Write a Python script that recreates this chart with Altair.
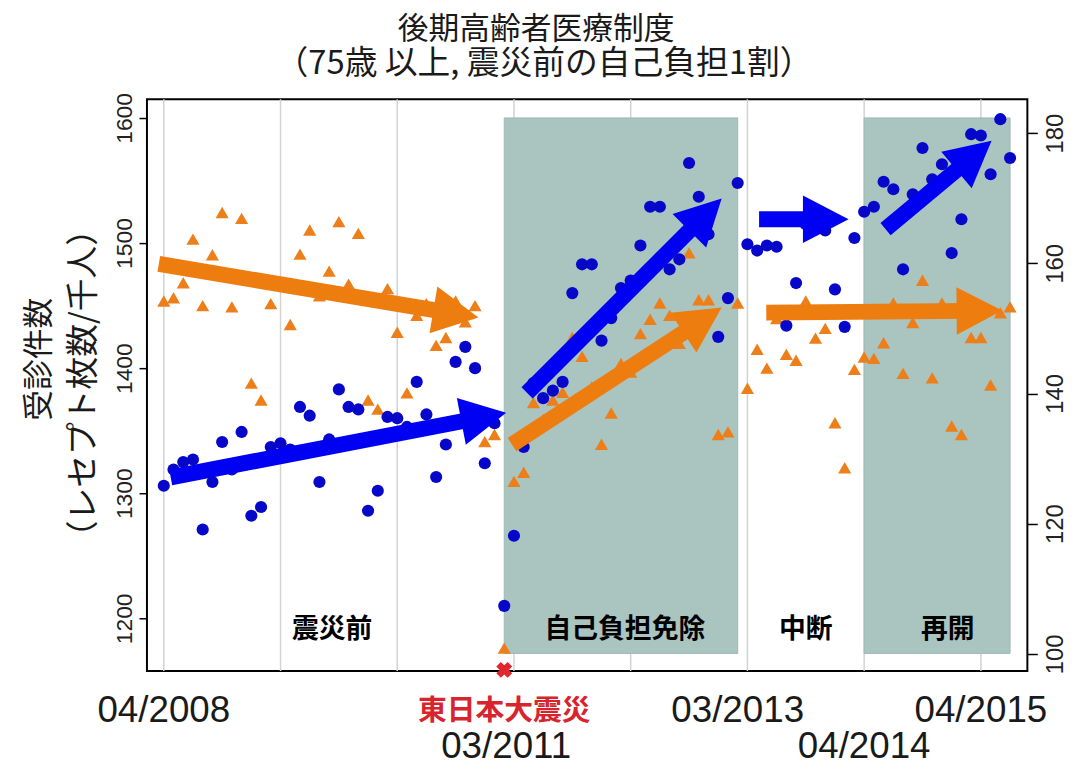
import math
import altair as alt
import pandas as pd

# ---------------- data ----------------
months = list(range(88))  # 0 = 04/2008
blue_vals = [1306, 1319, 1325, 1327, 1271, 1309, 1341, 1319, 1349, 1282,
             1289, 1337, 1340, 1335, 1369, 1362, 1309, 1343, 1383, 1369,
             1367, 1286, 1302, 1361, 1360, 1353, 1389, 1363, 1313, 1339,
             1405, 1417, 1400, 1324, 1356, 1210, 1266, 1337, 1388, 1376,
             1382, 1389, 1460, 1483, 1483, 1422, 1440, 1464, 1470, 1498,
             1529, 1529, 1479, 1487, 1564, 1537, 1507, 1425, 1456, 1548,
             1499, 1494, 1498, 1497, 1434, 1468, 1515, 1520, 1510, 1463,
             1433, 1504, 1525, 1529, 1549, 1543, 1479, 1539, 1576, 1551,
             1563, 1492, 1519, 1587, 1586, 1555, 1599, 1568]
orange_vals = [154.2, 154.7, 157.0, 163.7, 153.5, 161.3, 167.8, 153.3, 166.9, 141.6,
               139.0, 153.8, 157.0, 150.6, 161.4, 165.1, 155.0, 158.8, 166.4, 156.8,
               164.6, 139.0, 137.6, 156.1, 149.4, 140.1, 152.0, 153.8, 147.4, 148.6,
               154.2, 151.0, 153.5, 132.6, 133.7, 100.9, 126.5, 127.9, 138.6, 136.0,
               139.0, 140.2, 148.6, 145.7, 141.0, 132.2, 137.0, 144.6, 143.3, 149.2,
               151.4, 153.9, 152.0, 147.7, 161.6, 154.4, 154.4, 133.7, 134.1, 153.9,
               140.8, 146.8, 143.9, 151.5, 146.0, 145.1, 154.2, 148.5, 150.0, 135.5,
               128.6, 143.7, 145.6, 145.4, 147.8, 153.9, 143.1, 150.9, 157.4, 142.4,
               153.9, 135.0, 133.7, 148.6, 148.6, 141.3, 152.4, 153.3]

period_start = [35, 72]
period_end = [59, 87]
period_top = [1600, 1600]
period_bottom = [1172, 1172]

region_labels = ["震災前", "自己負担免除", "中断", "再開"]
region_m = [17.3, 47.4, 66.0, 80.6]

grid_months = [0, 12, 24, 36, 48, 60, 72, 84]
tick_months = [0, 59, 72, 84]

xlab_text = ["04/2008", "03/2011", "03/2013", "04/2014", "04/2015"]
xlab_m = [0, 35.2, 59, 72, 84]
xlab_row = [0, 1, 0, 1, 0]
quake_label = "東日本大震災"
quake_m = 35

# arrows (tail -> tip) in (month, left-axis value) units
arrow_color = ["blue", "blue", "blue", "blue", "orange", "orange", "orange"]
arrow_tail_m = [0.71, 37.35, 61.2, 74.2, -0.51, 35.8, 61.94]
arrow_tail_v = [1312.7, 1380.2, 1519.0, 1511.1, 1483.3, 1338.9, 1444.4]
arrow_tip_m = [35.2, 57.35, 70.4, 85.1, 32.35, 57.35, 86.2]
arrow_tip_v = [1364.3, 1535.7, 1519.0, 1581.7, 1440.5, 1448.4, 1446.0]

title_lines = ["後期高齢者医療制度", "（75歳 以上, 震災前の自己負担1割）"]
ytitle_lines = ["受診件数", "（レセプト枚数/千人）"]

# ---------------- styling ----------------
W, H = 887, 576
XMIN, XMAX = -1.73, 88.78
YL_MIN, YL_MAX = 1158, 1615
YR_MIN, YR_MAX = 97.4, 185.2
JP = "Noto Sans CJK JP"
LAT = "Liberation Sans"
BLUE_PT = "#0707c9"
ORANGE_PT = "#ec7f1a"
COLORS = {"blue": "#0000f2", "orange": "#ee7d10"}
SHADE = "#aac4c0"
HEAD_LEN = 46.0
HEAD_SIZE = (2 * HEAD_LEN) ** 2
HEAD_PATH = "M0,0L-1,-0.52L-1,0.52Z"

xs = alt.Scale(domain=[XMIN, XMAX], nice=False, zero=False)
yl = alt.Scale(domain=[YL_MIN, YL_MAX], nice=False, zero=False)
yr = alt.Scale(domain=[YR_MIN, YR_MAX], nice=False, zero=False)

px_per_m = W / (XMAX - XMIN)
px_per_v = H / (YL_MAX - YL_MIN)

# build arrow tables
shaft_rows, head_rows = [], []
for i in range(len(arrow_color)):
    dxp = (arrow_tip_m[i] - arrow_tail_m[i]) * px_per_m
    dyp = -(arrow_tip_v[i] - arrow_tail_v[i]) * px_per_v
    L = math.hypot(dxp, dyp)
    ux, uy = dxp / L, dyp / L
    back = HEAD_LEN * 0.75
    base_m = arrow_tip_m[i] - ux * back / px_per_m
    base_v = arrow_tip_v[i] + uy * back / px_per_v
    c = COLORS[arrow_color[i]]
    shaft_rows.append({"id": i, "o": 0, "m": arrow_tail_m[i], "v": arrow_tail_v[i], "c": c})
    shaft_rows.append({"id": i, "o": 1, "m": base_m, "v": base_v, "c": c})
    ang = math.degrees(math.atan2(dyp, dxp)) % 360
    head_rows.append({"m": arrow_tip_m[i], "v": arrow_tip_v[i], "ang": ang, "c": c})

df = pd.DataFrame({"m": months, "blue": blue_vals, "orange": orange_vals})
periods = pd.DataFrame({"s": period_start, "e": period_end, "t": period_top, "b": period_bottom})

xaxis = alt.Axis(values=tick_months, labels=False, ticks=True, tickSize=12, tickWidth=2,
                 tickColor="black", domain=False, grid=False, title=None)
left_axis = alt.Axis(orient="left", values=[1200, 1300, 1400, 1500, 1600], format="d",
                     labelAngle=270, labelAlign="center", labelBaseline="bottom",
                     labelFontSize=23, labelFont=LAT, labelColor="#222222", tickSize=8,
                     tickWidth=1.5, tickColor="black", domain=False, grid=False, title=None,
                     labelPadding=3)
right_axis = alt.Axis(orient="right", values=[100, 120, 140, 160, 180], format="d",
                      labelAngle=270, labelAlign="center", labelBaseline="top",
                      labelFontSize=24, labelFont=LAT, labelColor="#222222", tickSize=10,
                      tickWidth=1.5, tickColor="black", domain=False, grid=False, title=None,
                      labelPadding=6)

grid = alt.Chart(pd.DataFrame({"m": grid_months})).mark_rule(color="#d2d2d2", strokeWidth=1.5).encode(
    x=alt.X("m:Q", scale=xs, axis=None), y=alt.value(0), y2=alt.value(H))

rect = alt.Chart(periods).mark_rect(color=SHADE, stroke="#9db8b4", strokeWidth=1).encode(
    x=alt.X("s:Q", scale=xs, axis=xaxis), x2="e:Q",
    y=alt.Y("t:Q", scale=yl, axis=left_axis), y2="b:Q")

orange = alt.Chart(df).mark_point(shape="triangle-up", filled=True, size=175,
                                  color=ORANGE_PT, opacity=1).encode(
    x=alt.X("m:Q", scale=xs, axis=None), y=alt.Y("orange:Q", scale=yr, axis=right_axis))

blue = alt.Chart(df).mark_circle(size=150, color=BLUE_PT, opacity=1).encode(
    x=alt.X("m:Q", scale=xs, axis=None), y=alt.Y("blue:Q", scale=yl, axis=None))

shafts = alt.Chart(pd.DataFrame(shaft_rows)).mark_line(strokeWidth=16, strokeCap="butt").encode(
    x=alt.X("m:Q", scale=xs, axis=None), y=alt.Y("v:Q", scale=yl, axis=None),
    detail="id:N", order="o:Q", color=alt.Color("c:N", scale=None))

heads = alt.Chart(pd.DataFrame(head_rows)).mark_point(shape=HEAD_PATH, filled=True, size=HEAD_SIZE,
                                                      opacity=1, strokeWidth=0).encode(
    x=alt.X("m:Q", scale=xs, axis=None), y=alt.Y("v:Q", scale=yl, axis=None),
    angle=alt.Angle("ang:Q", scale=None), color=alt.Color("c:N", scale=None))

regions = alt.Chart(pd.DataFrame({"m": region_m, "t": region_labels})).mark_text(
    font=JP, fontSize=27, fontWeight="bold", color="black", baseline="middle").encode(
    x=alt.X("m:Q", scale=xs, axis=None), y=alt.value(535), text="t:N")

quake_x = alt.Chart(pd.DataFrame({"m": [quake_m]})).mark_point(
    shape="cross", angle=45, filled=True, size=260, color="#e3262e", opacity=1).encode(
    x=alt.X("m:Q", scale=xs, axis=None), y=alt.value(H - 1))

xlab = pd.DataFrame({"m": xlab_m, "t": xlab_text, "r": xlab_row})
xlab0 = alt.Chart(xlab[xlab.r == 0]).mark_text(font=LAT, fontSize=37, color="#1a1a1a",
                                              baseline="middle").encode(
    x=alt.X("m:Q", scale=xs, axis=None), y=alt.value(616), text="t:N")
xlab1 = alt.Chart(xlab[xlab.r == 1]).mark_text(font=LAT, fontSize=37, color="#1a1a1a",
                                              baseline="middle").encode(
    x=alt.X("m:Q", scale=xs, axis=None), y=alt.value(653), text="t:N")
quake_lab = alt.Chart(pd.DataFrame({"m": [quake_m], "t": [quake_label]})).mark_text(
    font=JP, fontSize=29, fontWeight="bold", color="#d8242c", baseline="middle").encode(
    x=alt.X("m:Q", scale=xs, axis=None), y=alt.value(616), text="t:N")

title1 = alt.Chart(pd.DataFrame({"t": [title_lines[0]]})).mark_text(
    font=JP, fontSize=31, color="#1a1a1a", baseline="middle").encode(
    x=alt.value(392), y=alt.value(-70), text="t:N")
title2 = alt.Chart(pd.DataFrame({"t": [title_lines[1]]})).mark_text(
    font=JP, fontSize=33, color="#1a1a1a", baseline="middle").encode(
    x=alt.value(400), y=alt.value(-35), text="t:N")

ytitle1 = alt.Chart(pd.DataFrame({"t": [ytitle_lines[0]]})).mark_text(
    font=JP, fontSize=31, color="#1a1a1a", baseline="middle", angle=270).encode(
    x=alt.value(-108), y=alt.value(262), text="t:N")
ytitle2 = alt.Chart(pd.DataFrame({"t": [ytitle_lines[1]]})).mark_text(
    font=JP, fontSize=33, color="#1a1a1a", baseline="middle", angle=270).encode(
    x=alt.value(-63), y=alt.value(286), text="t:N")

chart = alt.layer(
    grid, rect, orange, blue, shafts, heads, regions, quake_x, xlab0, xlab1, quake_lab,
    title1, title2, ytitle1, ytitle2
).resolve_scale(y="independent").properties(
    width=W, height=H, autosize=alt.AutoSizeParams(type="none"),
    padding={"left": 140, "top": 89, "right": 49, "bottom": 98}
).configure_view(stroke="black", strokeWidth=2)

chart.save("out.html", embed_options={"renderer": "svg", "actions": False})
